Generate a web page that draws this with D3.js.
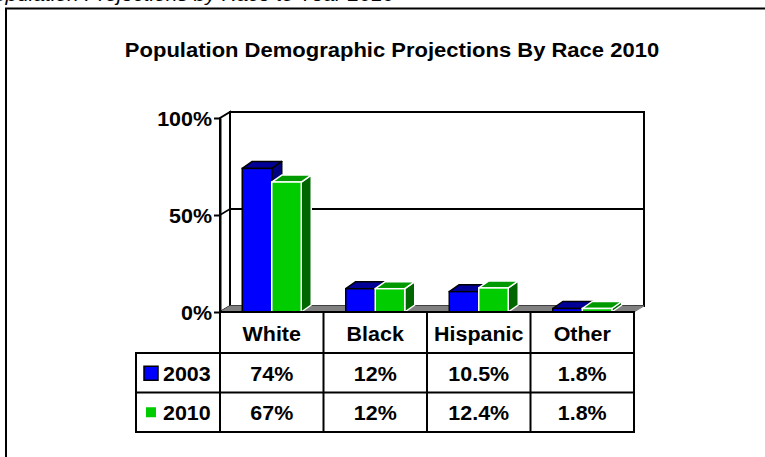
<!DOCTYPE html>
<html>
<head>
<meta charset="utf-8">
<script src="https://cdn.jsdelivr.net/npm/d3@7"></script>
<style>
  html, body { margin: 0; padding: 0; background: #fff; }
  svg { display: block; font-family: "Liberation Sans", Arial, sans-serif; }
</style>
</head>
<body>
<svg id="chart" width="765" height="457"></svg>
<script>
// Race categories and the two projection series (percent of population)
const categories = ["White", "Black", "Hispanic", "Other"];
const series2003 = [74, 12, 10.5, 1.8];
const series2010 = [67, 12, 12.4, 1.8];
const labels2003 = ["74%", "12%", "10.5%", "1.8%"];
const labels2010 = ["67%", "12%", "12.4%", "1.8%"];
const seriesNames = ["2003", "2010"];
const yTicks = [0, 50, 100];

(function () {
const svg = d3.select("#chart");
const fontSize = 19.5;
const widen = 1.1; // the chart's lettering is set slightly wide

// Stretch a text horizontally around its anchor
function wide(sel, k) {
  sel.each(function () {
    const w = this.getComputedTextLength();
    this.setAttribute("textLength", w * (k || widen));
    this.setAttribute("lengthAdjust", "spacingAndGlyphs");
  });
  return sel;
}

// Caption above the frame (partly clipped at the top of the page)
svg.append("text")
  .attr("x", -20).attr("y", 1)
  .attr("font-size", 19).attr("font-style", "italic")
  .text("Population Projections by Race to Year 2010")
  .call(wide);

// Outer frame
svg.append("path")
  .attr("d", "M6,470 L6,8.5 L780,8.5")
  .attr("fill", "none").attr("stroke", "#000").attr("stroke-width", 2);

// Title
svg.append("text")
  .attr("x", 392).attr("y", 56.5)
  .attr("text-anchor", "middle")
  .attr("font-size", 20).attr("font-weight", "bold")
  .text("Population Demographic Projections By Race 2010")
  .call(wide);

// Plot geometry
const plotLeft = 220, plotRight = 634, base = 312, plotTop = 118;
const wallDx = 10, wallDy = -6;
const barDx = 10, barDy = -7;

const x = d3.scaleBand().domain(categories).range([plotLeft, plotRight]);
const y = d3.scaleLinear().domain([0, 100]).range([base, plotTop]);
const barW = x.bandwidth() * 0.285;

const g = svg.append("g");

// Left side wall
g.append("path")
  .attr("d", `M${plotLeft},${base} L${plotLeft},${plotTop} L${plotLeft + wallDx},${plotTop + wallDy} L${plotLeft + wallDx},${base + wallDy} Z`)
  .attr("fill", "#fff").attr("stroke", "#000").attr("stroke-width", 2);

// Back wall
g.append("rect")
  .attr("x", plotLeft + wallDx).attr("y", plotTop + wallDy)
  .attr("width", plotRight - plotLeft).attr("height", base - plotTop)
  .attr("fill", "#fff").attr("stroke", "#000").attr("stroke-width", 2);

// Gridlines on the back wall and side wall
yTicks.filter(t => t > 0 && t < 100).forEach(t => {
  g.append("line")
    .attr("x1", plotLeft + wallDx).attr("x2", plotRight + wallDx)
    .attr("y1", y(t) + wallDy).attr("y2", y(t) + wallDy)
    .attr("stroke", "#000").attr("stroke-width", 2);
  g.append("line")
    .attr("x1", plotLeft).attr("x2", plotLeft + wallDx)
    .attr("y1", y(t)).attr("y2", y(t) + wallDy)
    .attr("stroke", "#000").attr("stroke-width", 1.5);
});

// Floor
g.append("path")
  .attr("d", `M${plotLeft},${base} L${plotLeft + wallDx},${base + wallDy} L${plotRight + wallDx},${base + wallDy} L${plotRight},${base} Z`)
  .attr("fill", "#808080").attr("stroke", "#808080").attr("stroke-width", 1);

// Value axis with ticks
const yAxis = d3.axisLeft(y).tickValues(yTicks).tickFormat(d => d + "%").tickSize(6).tickSizeOuter(0);
const axisG = g.append("g").attr("transform", `translate(${plotLeft},0)`).call(yAxis);
axisG.select(".domain").attr("stroke", "#000").attr("stroke-width", 2);
axisG.selectAll(".tick line").attr("stroke", "#000").attr("stroke-width", 2);
axisG.selectAll(".tick text")
  .attr("font-size", fontSize).attr("font-weight", "bold")
  .attr("font-family", "'Liberation Sans', Arial, sans-serif")
  .attr("fill", "#000").attr("x", -8).attr("dy", "0.36em")
  .call(wide);

// 3D bars
const styles = [
  { front: "#0000ff", top: "#000099", side: "#000080", stroke: "#000" },
  { front: "#00cc00", top: "#009900", side: "#006600", stroke: "#fff" }
];
const allSeries = [series2003, series2010];

function drawBar(x0, v, s) {
  const yt = y(v);
  const bg = g.append("g");
  bg.append("path")
    .attr("d", `M${x0 + barW},${base} L${x0 + barW},${yt} L${x0 + barW + barDx},${yt + barDy} L${x0 + barW + barDx},${base + barDy} Z`)
    .attr("fill", s.side).attr("stroke", s.stroke).attr("stroke-width", 1.5).attr("stroke-linejoin", "round");
  bg.append("path")
    .attr("d", `M${x0},${yt} L${x0 + barDx},${yt + barDy} L${x0 + barW + barDx},${yt + barDy} L${x0 + barW},${yt} Z`)
    .attr("fill", s.top).attr("stroke", s.stroke).attr("stroke-width", 1.5).attr("stroke-linejoin", "round");
  bg.append("rect")
    .attr("x", x0).attr("y", yt).attr("width", barW).attr("height", base - yt)
    .attr("fill", s.front).attr("stroke", s.stroke).attr("stroke-width", 1.5);
}

categories.forEach((c, i) => {
  const start = x(c) + x.bandwidth() / 2 - barW;
  allSeries.forEach((ser, k) => drawBar(start + k * barW, ser[i], styles[k]));
});

// Data table under the plot
const rowTop = base, headH = 41, rowH = 39.5;
const legendLeft = 136;
const tableG = svg.append("g");
const rowBottom = rowTop + headH + 2 * rowH;

// Header cells
tableG.append("rect")
  .attr("x", plotLeft).attr("y", rowTop).attr("width", plotRight - plotLeft).attr("height", headH)
  .attr("fill", "#fff").attr("stroke", "#000").attr("stroke-width", 2);
// Data rows
tableG.append("rect")
  .attr("x", legendLeft).attr("y", rowTop + headH).attr("width", plotRight - legendLeft).attr("height", 2 * rowH)
  .attr("fill", "#fff").attr("stroke", "#000").attr("stroke-width", 2);
tableG.append("line")
  .attr("x1", legendLeft).attr("x2", plotRight)
  .attr("y1", rowTop + headH + rowH).attr("y2", rowTop + headH + rowH)
  .attr("stroke", "#000").attr("stroke-width", 2);
// Column dividers
categories.forEach(c => {
  tableG.append("line")
    .attr("x1", x(c)).attr("x2", x(c))
    .attr("y1", rowTop).attr("y2", rowBottom)
    .attr("stroke", "#000").attr("stroke-width", 2);
});

// Category names
tableG.selectAll("text.cat").data(categories).join("text")
  .attr("class", "cat")
  .attr("x", d => x(d) + x.bandwidth() / 2)
  .attr("y", rowTop + headH / 2 + 8)
  .attr("text-anchor", "middle")
  .attr("font-size", fontSize).attr("font-weight", "bold")
  .text(d => d)
  .call(wide);

// Value rows with series names
[labels2003, labels2010].forEach((labs, k) => {
  const cy = rowTop + headH + rowH * k + rowH / 2;
  tableG.selectAll(`text.v${k}`).data(labs).join("text")
    .attr("class", `v${k}`)
    .attr("x", (d, i) => x(categories[i]) + x.bandwidth() / 2)
    .attr("y", cy + 8)
    .attr("text-anchor", "middle")
    .attr("font-size", fontSize).attr("font-weight", "bold")
    .text(d => d)
    .call(wide);
  tableG.append("text")
    .attr("x", 163).attr("y", cy + 8)
    .attr("font-size", fontSize).attr("font-weight", "bold")
    .text(seriesNames[k])
    .call(wide);
});
// Legend keys
tableG.append("rect")
  .attr("x", 144).attr("y", rowTop + headH + rowH / 2 - 6.5).attr("width", 14).attr("height", 14)
  .attr("fill", styles[0].front).attr("stroke", "#000").attr("stroke-width", 1.5);
tableG.append("rect")
  .attr("x", 146).attr("y", rowTop + headH + rowH * 1.5 - 5).attr("width", 10).attr("height", 10)
  .attr("fill", styles[1].front);
})();
</script>
</body>
</html>
